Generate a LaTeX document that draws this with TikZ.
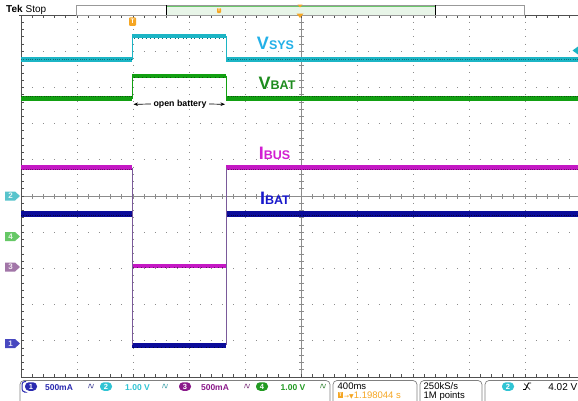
\documentclass[tikz,border=0pt]{standalone}
\usepackage{fontspec}
\setmainfont{Liberation Sans}
\newfontfamily\dejavu{DejaVu Sans}
\usetikzlibrary{arrows.meta,shapes.geometric}
\definecolor{cyT}{HTML}{1CB5C5}
\definecolor{cyD}{HTML}{0E6E78}
\definecolor{grT}{HTML}{12A012}
\definecolor{grD}{HTML}{0A5A0A}
\definecolor{mgT}{HTML}{C418C4}
\definecolor{mgD}{HTML}{6A106A}
\definecolor{blT}{HTML}{0C0C9A}
\definecolor{blD}{HTML}{040448}
\definecolor{cyL}{HTML}{22B0E8}
\definecolor{grL}{HTML}{1E8C1E}
\definecolor{mgL}{HTML}{D21ED2}
\definecolor{blL}{HTML}{1818CC}
\definecolor{orng}{HTML}{F5A623}
\definecolor{gridc}{HTML}{8C8C8C}
\definecolor{edgec}{HTML}{505050}
\definecolor{mk2}{HTML}{58C4CC}
\definecolor{mk4}{HTML}{66C866}
\definecolor{mk3}{HTML}{A276A8}
\definecolor{mk1}{HTML}{4848C0}
\definecolor{rd1}{HTML}{2A2AB0}
\definecolor{rd2}{HTML}{30C4D4}
\definecolor{rd3}{HTML}{8A1A8A}
\definecolor{rd4}{HTML}{229A22}
\definecolor{trans}{HTML}{7A5A9A}
\definecolor{lgreen}{HTML}{E8F5E8}
\newcommand{\chmark}[4]{%
  \fill[#2] (5,{#1-4.5}) -- (15,{#1-4.5}) -- (20,#1) -- (15,{#1+4.5}) -- (5,{#1+4.5}) -- cycle;
  \node[text=white!85!#2, font=\bfseries\fontsize{8}{8}\selectfont, inner sep=0pt] (#4) at (10.5,#1) {#3};}
\newcommand{\bwicon}[2]{%
  \draw[#2, line width=0.6pt] ({#1-2.5},388) .. controls ({#1-1.5},383) and ({#1-0.5},383) .. (#1,386) .. controls ({#1+0.5},389) and ({#1+1.5},389) .. ({#1+2.5},384);}
\begin{document}
\begin{tikzpicture}[x=1pt,y=-1pt,
  bandline/.style={line width=#1, line cap=butt},
  noisy/.style={line width=1pt, dash pattern=on 1.3pt off 1pt on 0.6pt off 1.6pt},
  sparse/.style={line width=0.9pt, dash pattern=on 1pt off 2.5pt on 0.6pt off 4pt},
  lbl/.style={inner sep=0pt, font=\bfseries},
  rd/.style={inner sep=0pt, anchor=base, font=\bfseries\fontsize{8.5}{8.5}\selectfont},
  bx/.style={inner sep=0pt, anchor=base west, font=\fontsize{9.5}{9.5}\selectfont},
  pill/.style={fill=#1, text=white, rounded corners=4pt, minimum width=12pt, minimum height=8.5pt, inner sep=0pt, font=\bfseries\fontsize{7.5}{7.5}\selectfont},
  frame/.style={draw=gray, line width=0.7pt, rounded corners=4pt}]
\useasboundingbox (0,0) rectangle (578,400);
\clip (0,0) rectangle (578,400);
\fill[white] (0,0) rectangle (578,400);

% ---- graticule dotted grid
\foreach \k in {1,2,3,4,6,7,8,9} {
  \draw[gridc, line width=1pt, dash pattern=on 0.9pt off 6.34pt] ({21+56*\k},14.55) -- ({21+56*\k},377);
  \draw[gridc, line width=1pt, dash pattern=on 0.9pt off 10.3pt] (20.55,{15+36.2*\k}) -- (578,{15+36.2*\k});
}
% center cross
\draw[gridc, line width=0.6pt] (21,196) -- (578,196);
\draw[gridc, line width=0.6pt] (301,15) -- (301,377);
\draw[gridc, line width=5pt, dash pattern=on 0.7pt off 10.5pt] (20.65,196) -- (578,196);
\draw[gridc, line width=5pt, dash pattern=on 0.7pt off 6.54pt] (301,14.65) -- (301,377);
% edges
\draw[edgec, line width=0.8pt] (19,15) -- (578,15);
\draw[edgec, line width=0.8pt] (21,15) -- (21,377) -- (578,377);
\draw[edgec, line width=3pt, dash pattern=on 0.7pt off 6.54pt] (22.5,14.65) -- (22.5,377);
\draw[edgec, line width=3pt, dash pattern=on 0.7pt off 10.5pt] (20.65,16.5) -- (578,16.5);
\draw[edgec, line width=3pt, dash pattern=on 0.7pt off 10.5pt] (20.65,375.5) -- (578,375.5);

% ---- top bar
\node[inner sep=0pt, anchor=base west, font=\bfseries\fontsize{10}{10}\selectfont] (tek) at (6,12) {Tek};
\node[inner sep=0pt, anchor=base west, font=\fontsize{10}{10}\selectfont] (stop) at (25.5,12) {Stop};
\fill[lgreen] (166,5) rectangle (435,14.5);
\draw[green!45!gray!80, line width=1.3pt] (166,6.6) -- (435,6.6);
\draw[gray!80, line width=0.7pt] (76,5) rectangle (524,15);
\draw[black, line width=1pt] (166,5) -- (166,15);
\draw[black, line width=1pt] (435,5) -- (435,15);
\node[fill=orng, text=white, inner sep=0pt, minimum width=4pt, minimum height=5pt, rounded corners=0.8pt, font=\bfseries\fontsize{4}{4}\selectfont] (tsmall) at (219,10.5) {T};
\fill[orng] (297.5,4.5) -- (302.5,4.5) -- (300,7.5) -- cycle;
\fill[orng] (296.5,13.5) -- (303.5,13.5) -- (300,18) -- cycle;

% trigger marker
\node[fill=orng, text=white, inner sep=0pt, minimum width=7pt, minimum height=8.5pt, rounded corners=1pt, font=\bfseries\fontsize{6.5}{6.5}\selectfont] (trig) at (132.5,21.5) {T};

% ---- traces
% cyan VSYS
\draw[cyT, bandline=5pt] (21,59.5) -- (132,59.5);
\draw[cyT, bandline=5pt] (226,59.5) -- (578,59.5);
\draw[cyD, noisy] (21,59.4) -- (132,59.4);
\draw[cyD, noisy] (226,59.4) -- (578,59.4);
\draw[cyT, bandline=3.5pt] (132,36) -- (226,36);
\draw[cyD, sparse] (134,38.6) -- (224,38.6);
\draw[cyT, line width=0.9pt] (132,59.5) -- (132,36);
\draw[cyT, line width=0.9pt] (226,36) -- (226,59.5);
% green VBAT
\draw[grT, bandline=4.5pt] (21,98.5) -- (132,98.5);
\draw[grT, bandline=4.5pt] (226,98.5) -- (578,98.5);
\draw[grD, noisy] (21,96.8) -- (132,96.8);
\draw[grD, noisy] (226,96.8) -- (578,96.8);
\draw[grT, bandline=4pt] (132,75.5) -- (226,75.5);
\draw[grD, sparse] (134,77.8) -- (224,77.8);
\draw[grT, line width=0.9pt] (132,98.5) -- (132,75.5);
\draw[grT, line width=0.9pt] (226,75.5) -- (226,98.5);
% magenta IBUS
\draw[mgT, bandline=4.5pt] (21,167.5) -- (132,167.5);
\draw[mgT, bandline=4.5pt] (226,167.5) -- (578,167.5);
\draw[mgD, noisy] (21,169.3) -- (132,169.3);
\draw[mgD, noisy] (226,169.3) -- (578,169.3);
\draw[mgT, bandline=4pt] (132,265.5) -- (226,265.5);
\draw[mgD, sparse] (133,267.2) -- (225,267.2);
% blue IBAT
\draw[blT, bandline=5.5pt] (21,214) -- (132,214);
\draw[blT, bandline=5.5pt] (226,214) -- (578,214);
\draw[blD, noisy] (21,215.6) -- (132,215.6);
\draw[blD, noisy] (226,215.6) -- (578,215.6);
\draw[blT, bandline=5pt] (132,345) -- (226,345);
\draw[blD, sparse] (133,347.2) -- (225,347.2);
% transitions
\draw[trans, line width=0.8pt] (132,167.5) -- (132,345);
\draw[trans, line width=0.8pt] (226,167.5) -- (226,345);

% ---- labels
\node[lbl, text=cyL] (vsys) at (275.5,43.5) {{\fontsize{18}{18}\selectfont V}{\fontsize{12.5}{12.5}\selectfont SYS}};
\node[lbl, text=grL] (vbat) at (277,83.5) {{\fontsize{18}{18}\selectfont V}{\fontsize{12.5}{12.5}\selectfont BAT}};
\node[lbl, text=mgL] (ibus) at (274.5,153.5) {{\fontsize{18}{18}\selectfont I}{\fontsize{12.5}{12.5}\selectfont BUS}};
\node[lbl, text=blL] (ibat) at (275,198.5) {{\fontsize{18}{18}\selectfont I}{\fontsize{12.5}{12.5}\selectfont BAT}};

\node[inner sep=2.5pt, font=\bfseries\fontsize{8.8}{8.8}\selectfont] (ob) at (180,104) {open battery};
\coordinate (obL) at (133.5,104.3);
\coordinate (obR) at (225,104.3);
\draw[line width=0.7pt, -{Stealth[length=4.5pt,width=3.5pt]}] (ob.west) -- (obL);
\draw[line width=0.7pt, -{Stealth[length=4.5pt,width=3.5pt]}] (ob.east) -- (obR);

% right trigger level marker
\fill[cyT] (578,46.5) -- (572.5,50.5) -- (578,54.5) -- cycle;

% left channel markers
\chmark{196}{mk2}{2}{m2}
\chmark{236.5}{mk4}{4}{m4}
\chmark{267}{mk3}{3}{m3}
\chmark{343.5}{mk1}{1}{m1}

% ---- bottom readouts
\draw[frame] (20,410) -- (20,380.5) -- (330,380.5) -- (330,410);
\draw[frame] (333,410) -- (333,380.5) -- (417,380.5) -- (417,410);
\draw[frame] (420,410) -- (420,380.5) -- (482,380.5) -- (482,410);
\draw[frame] (485,410) -- (485,380.5) -- (600,380.5) -- (600,410);
\draw[rd1, line width=1pt, rounded corners=3pt] (24,392) -- (22,392) -- (22,381.5) -- (26,381.5);

\node[pill=rd1] (c1) at (31,386.5) {1};
\node[rd, text=rd1] (v1) at (59,390) {500mA};
\bwicon{91}{rd1!60!gray}
\node[pill=rd2] (c2) at (106,386.5) {2};
\node[rd, text=rd2] (v2) at (137.5,390) {1.00 V};
\bwicon{165}{rd2!60!gray}
\node[pill=rd3] (c3) at (185,386.5) {3};
\node[rd, text=rd3] (v3) at (215,390) {500mA};
\bwicon{247}{rd3!60!gray}
\node[pill=rd4] (c4) at (262,386.5) {4};
\node[rd, text=rd4] (v4) at (293,390) {1.00 V};
\bwicon{323}{rd4!60!gray}

\node[bx] (tb) at (337.5,389) {400ms};
\node[fill=orng, text=white, inner sep=0pt, minimum width=5pt, minimum height=6.5pt, font=\bfseries\fontsize{5}{5}\selectfont] (tpos) at (340.5,395) {T};
\node[bx, text=orng] (tpv) at (344,398.5) {{\dejavu\fontsize{6}{6}\selectfont →▼}1.198044 s};
\node[bx] (sr) at (423.5,389) {250kS/s};
\node[bx] (rl) at (423.5,398.5) {1M points};
\node[pill=rd2] (ct) at (508,386.5) {2};
\draw[black, line width=0.9pt] (523,389.5) -- (525.5,389.5) -- (528.5,383) -- (531,383);
\draw[black, line width=0.7pt] (524,383.5) -- (530,389.5);
\node[inner sep=0pt, anchor=base east, font=\fontsize{10}{10}\selectfont] (tl) at (577.5,390) {4.02 V};
\end{tikzpicture}
\end{document}
